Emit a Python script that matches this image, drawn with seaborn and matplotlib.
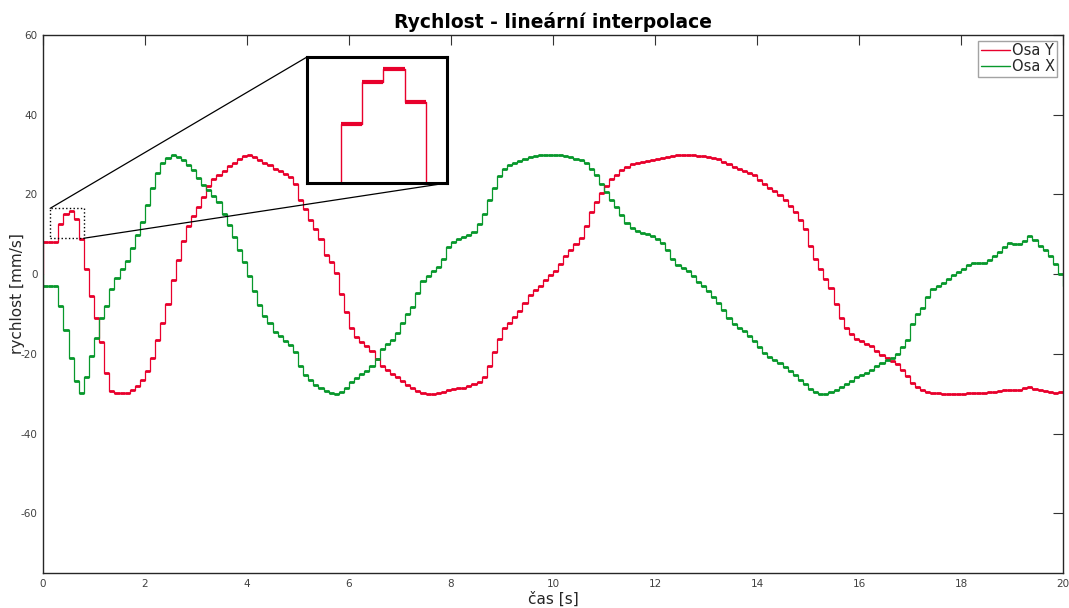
import numpy as np
import pandas as pd
import matplotlib
matplotlib.use("Agg")
import matplotlib.pyplot as plt
from matplotlib.patches import Rectangle, ConnectionPatch
import seaborn as sns

# sample period of the interpolator output [s]
sample_period = 0.1

# axis Y velocity [mm/s], one value per sample (0.0 s ... 19.9 s)
osa_y = [
    8, 8, 8, 12.5, 15, 15.8, 13.8, 8.8, 1.2, -5.5,
    -11, -17, -24.7, -29.4, -29.8, -29.9, -29.8, -29.2, -28.0, -26.5,
    -24.4, -21.0, -16.5, -12.3, -7.5, -1.5, 3.5, 8.3, 12.0, 14.5,
    16.8, 19.3, 22.2, 23.8, 24.8, 25.8, 27.1, 27.8, 29.0, 29.7,
    29.8, 29.3, 28.7, 28.0, 27.5, 26.5, 25.8, 25.0, 24.3, 22.5,
    18.5, 16.3, 13.7, 11.2, 8.7, 4.9, 3.0, 0.3, -5.0, -9.5,
    -13.5, -15.8, -17.0, -18.0, -19.3, -21.2, -23.0, -24.0, -25.0, -25.8,
    -26.8, -27.8, -28.6, -29.3, -29.8, -30.0, -30.0, -29.9, -29.6, -29.1,
    -28.9, -28.7, -28.5, -28.1, -27.6, -27.0, -25.8, -23.0, -19.5, -16.3,
    -13.4, -12.2, -10.8, -9.2, -7.2, -5.3, -4.1, -2.9, -1.6, -0.3,
    0.8, 2.5, 4.5, 6.0, 7.5, 9.1, 12.0, 15.5, 18.1, 20.4,
    22.2, 23.8, 24.9, 26.2, 27.0, 27.6, 27.9, 28.1, 28.3, 28.6,
    28.9, 29.1, 29.3, 29.6, 29.8, 29.9, 29.9, 29.8, 29.7, 29.6,
    29.4, 29.2, 28.8, 28.2, 27.6, 26.9, 26.4, 25.9, 25.3, 24.8,
    23.7, 22.7, 21.7, 20.8, 19.8, 18.5, 17.0, 15.5, 13.5, 11.3,
    7.0, 3.9, 1.3, -1.3, -3.5, -7.5, -10.9, -13.5, -15.0, -16.2,
    -16.9, -17.5, -18.0, -19.2, -20.2, -21.0, -21.8, -22.6, -24.0, -25.5,
    -27.3, -28.3, -29.0, -29.5, -29.8, -29.9, -30.0, -30.1, -30.1, -30.0,
    -30.0, -29.9, -29.8, -29.8, -29.8, -29.7, -29.6, -29.4, -29.1, -29.0,
    -29.0, -29.0, -28.6, -28.4, -28.8, -29.1, -29.4, -29.6, -29.8, -29.7,
]
osa_y_end = -29.6

# axis X velocity [mm/s]
osa_x = [
    -3, -3, -3, -8, -14, -21, -26.7, -29.8, -25.8, -20.5,
    -16.0, -11.0, -8.0, -3.8, -1.0, 1.3, 3.2, 6.5, 9.8, 13.0,
    17.3, 21.7, 25.3, 27.8, 29.2, 29.8, 29.4, 28.7, 27.4, 26.0,
    24.2, 22.4, 21.0, 19.5, 18.0, 15.0, 12.4, 9.3, 6.0, 3.0,
    -0.5, -4.3, -7.8, -10.6, -12.3, -14.5, -15.6, -16.7, -17.9, -19.5,
    -23.0, -25.2, -26.5, -27.7, -28.6, -29.4, -29.9, -30.1, -29.6, -28.5,
    -27.1, -26.0, -25.0, -24.2, -23.0, -21.3, -18.7, -17.5, -16.5, -14.8,
    -12.2, -10.1, -8.2, -4.8, -1.8, -0.5, 0.8, 1.8, 3.8, 6.8,
    8.0, 8.7, 9.3, 9.9, 10.6, 12.5, 15.0, 18.5, 21.5, 24.5,
    26.5, 27.3, 28.0, 28.5, 29.0, 29.4, 29.7, 29.8, 29.9, 29.9,
    29.9, 29.8, 29.6, 29.3, 29.0, 28.6, 27.8, 26.3, 24.8, 22.5,
    20.6, 18.6, 16.8, 14.8, 12.8, 11.6, 10.9, 10.4, 10.0, 9.5,
    8.9, 7.9, 6.0, 3.8, 2.3, 1.6, 0.8, -0.5, -1.9, -3.0,
    -4.3, -5.8, -7.3, -9.0, -11.0, -12.6, -13.5, -14.3, -15.5, -16.8,
    -18.3, -19.8, -20.9, -21.6, -22.4, -23.3, -24.3, -25.4, -26.5, -27.6,
    -28.8, -29.6, -30.0, -30.1, -29.7, -29.0, -28.3, -27.5, -26.7, -25.9,
    -25.3, -24.7, -24.0, -23.0, -22.3, -21.6, -21.0, -20.0, -18.3, -16.5,
    -12.5, -10.0, -8.5, -5.8, -3.7, -3.0, -2.3, -1.2, -0.3, 0.5,
    1.4, 2.4, 2.9, 2.8, 2.7, 3.6, 4.5, 5.6, 6.9, 7.8,
    7.6, 7.5, 8.3, 9.5, 8.6, 7.0, 6.0, 4.5, 2.5, 0.0,
]
osa_x_end = -3

series_names = ["Osa Y", "Osa X"]
series_colors = {"Osa Y": "#e8002c", "Osa X": "#08982c"}

x_ticks = [0, 2, 4, 6, 8, 10, 12, 14, 16, 18, 20]
y_ticks = [-60, -40, -20, 0, 20, 40, 60]

# zoomed window (time, velocity)
zoom_t = (0.14, 0.80)
zoom_v = (9.0, 16.5)


def step_frame(name, values, end_value):
    n = len(values)
    t = np.round(np.arange(n + 1) * sample_period, 3)
    # both axes start from standstill at t = 0
    times = np.concatenate([[0.0], t])
    vals = np.concatenate([[0.0], values, [end_value]])
    return pd.DataFrame({"t": times, "v": vals, "osa": name})


frames = {
    "Osa Y": step_frame("Osa Y", osa_y, osa_y_end),
    "Osa X": step_frame("Osa X", osa_x, osa_x_end),
}
df = pd.concat([frames[n] for n in series_names], ignore_index=True)

sns.set_style("white")
plt.rcParams["font.family"] = ["DejaVu Sans"]
plt.rcParams["axes.unicode_minus"] = False

fig = plt.figure(figsize=(10.69, 6.08), dpi=100)
ax = fig.add_axes([43 / 1069, 1 - 573 / 608, 1020 / 1069, 538 / 608])


def draw_steps(target, legend, flat_lw, step_lw):
    sns.lineplot(data=df, x="t", y="v", hue="osa", hue_order=series_names,
                 palette=series_colors, drawstyle="steps-post",
                 estimator=None, sort=False, linewidth=step_lw,
                 legend=legend, ax=target)
    # the held (flat) parts of each step are drawn heavier
    for name in series_names:
        f = frames[name]
        tt = f["t"].to_numpy()
        vv = f["v"].to_numpy()
        target.hlines(vv[1:-1], tt[1:-1], tt[2:], colors=series_colors[name],
                      linewidth=flat_lw, label="_nolegend_")


draw_steps(ax, True, 2.0, 0.9)

ax.set_xlim(0, 20)
ax.set_ylim(-75, 60)
ax.set_xticks(x_ticks)
ax.set_yticks(y_ticks)
ax.tick_params(direction="in", top=True, right=True, length=7, width=0.8,
               labelsize=7.5, labelcolor="#404040", color="#333333", pad=4)
for s in ax.spines.values():
    s.set_color("#262626")
    s.set_linewidth(1.0)

ax.set_xlabel("čas [s]", fontsize=11, color="#262626", labelpad=2)
ax.set_ylabel("rychlost [mm/s]", fontsize=11, color="#262626")
ax.yaxis.set_label_coords(-0.018, 0.52)
ax.set_title("Rychlost - lineární interpolace", fontsize=13.5,
             fontweight="bold", color="black", pad=5)

handles, labels = ax.get_legend_handles_labels()
leg = ax.legend(handles, labels, loc="upper right", fontsize=10.5,
                frameon=True, fancybox=False, edgecolor="#8c8c8c",
                handlelength=2.0, handletextpad=0.15, borderpad=0.15,
                labelspacing=0.1, borderaxespad=0.4)
leg.get_frame().set_linewidth(1.0)
for h in leg.get_lines():
    h.set_linewidth(1.0)

# dotted box around the zoomed window
ax.add_patch(Rectangle((zoom_t[0], zoom_v[0]), zoom_t[1] - zoom_t[0],
                       zoom_v[1] - zoom_v[0], fill=False, edgecolor="black",
                       linestyle=":", linewidth=1.0, zorder=5))

# magnified view
ax_in = fig.add_axes([307 / 1069, 1 - 183 / 608, 140 / 1069, 126 / 608])
draw_steps(ax_in, False, 3.0, 1.0)
ax_in.set_xlim(*zoom_t)
ax_in.set_ylim(*zoom_v)
ax_in.set_xticks([])
ax_in.set_yticks([])
ax_in.set_xlabel("")
ax_in.set_ylabel("")
for s in ax_in.spines.values():
    s.set_color("black")
    s.set_linewidth(2.2)

for (xa, ya), (xb, yb) in [((zoom_t[0], zoom_v[1]), (0, 1)),
                           ((zoom_t[1], zoom_v[0]), (1, 0))]:
    con = ConnectionPatch(xyA=(xa, ya), coordsA=ax.transData,
                          xyB=(xb, yb), coordsB=ax_in.transAxes,
                          color="black", linewidth=0.9)
    fig.add_artist(con)

fig.savefig("out.png", dpi=100)
